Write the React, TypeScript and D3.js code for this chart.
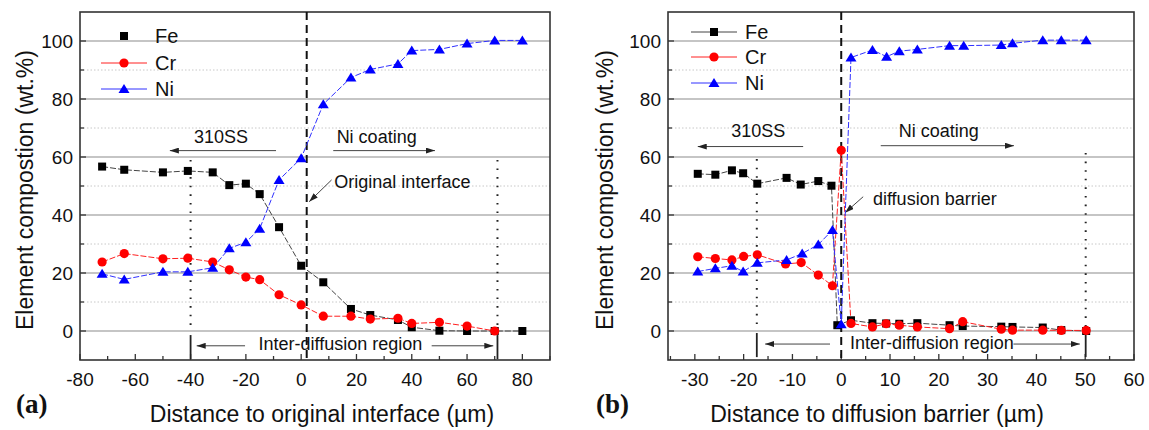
import React from 'react';
import * as d3 from 'd3';

// ---------- Data: panel (a) ----------
const distA = [-72, -64, -50, -41, -32, -26, -20, -15, -8, 0, 8, 18, 25, 35, 40, 50, 60, 70, 80];
const feA = [56.7, 55.6, 54.7, 55.2, 54.7, 50.3, 50.8, 47.2, 35.8, 22.5, 16.8, 7.6, 5.5, 3.8, 1.3, 0.1, 0, 0, 0];
const distCrA = [-72, -64, -50, -41, -32, -26, -20, -15, -8, 0, 8, 18, 25, 35, 40, 50, 60, 70];
const crA = [23.8, 26.7, 24.9, 25.1, 23.8, 21.1, 18.6, 17.7, 12.5, 9.0, 5.1, 5.1, 4.1, 4.4, 2.6, 3.0, 1.7, 0];
const niA = [19.7, 17.8, 20.4, 20.4, 21.8, 28.5, 30.6, 35.3, 52.1, 59.6, 78.2, 87.4, 90.2, 92.1, 96.7, 97.1, 99.1, 100.2, 100.2];

// ---------- Data: panel (b) ----------
const distFeB = [-29.4, -25.8, -22.4, -20.1, -17.2, -11.2, -8.3, -4.7, -2.0, -0.8, 2.0, 6.4, 9.2, 11.9, 15.6, 22.2, 24.9, 32.8, 35.1, 41.3, 45.1, 50.2];
const feB = [54.2, 53.9, 55.4, 54.4, 50.8, 52.8, 50.5, 51.7, 50.1, 2.0, 3.7, 2.7, 2.6, 2.5, 2.7, 2.0, 1.7, 1.5, 1.4, 1.2, 0.3, 0];
const distCrB = [-29.4, -25.8, -22.4, -20.0, -17.2, -11.4, -8.2, -4.7, -1.8, 0, 2.0, 6.4, 9.2, 11.9, 15.6, 22.2, 24.9, 32.8, 35.1, 41.3, 45.1, 50.2];
const crB = [25.6, 25.0, 24.5, 25.7, 26.3, 23.1, 23.6, 19.3, 15.6, 62.3, 2.6, 1.4, 2.5, 2.0, 1.4, 0.8, 3.2, 0.6, 0.3, 0.3, 0.2, 0.2];
const distNiB = [-29.4, -25.8, -22.4, -20.1, -17.2, -11.2, -8.0, -4.7, -1.8, 0, 2.0, 6.4, 9.3, 11.9, 15.6, 22.2, 25.1, 32.8, 35.1, 41.3, 45.1, 50.2];
const niB = [20.5, 21.6, 22.5, 20.5, 23.5, 24.5, 26.7, 29.8, 34.8, 2.3, 94.3, 96.9, 94.6, 96.5, 97.1, 98.4, 98.4, 98.6, 99.2, 100.3, 100.3, 100.3];

// ---------- Axis ticks ----------
const xTicksA = [-80, -60, -40, -20, 0, 20, 40, 60, 80];
const xTicksB = [-30, -20, -10, 0, 10, 20, 30, 40, 50, 60];
const yTicks = [0, 20, 40, 60, 80, 100];
const yMinor = [10, 30, 50, 70, 90];

const FONT = 'Liberation Sans, Arial, Helvetica, sans-serif';

type Shape = 'square' | 'circle' | 'triangle';
interface Series { name: string; xs: number[]; ys: number[]; color: string; line: string; shape: Shape; }

function Mark({ shape, x, y, color }: { shape: Shape; x: number; y: number; color: string }) {
  if (shape === 'square') return <rect x={x - 4} y={y - 4} width={8} height={8} fill={color} />;
  if (shape === 'circle') return <circle cx={x} cy={y} r={4.6} fill={color} />;
  return <path d={`M${x},${y - 5} L${x + 5.5},${y + 4} L${x - 5.5},${y + 4} Z`} fill={color} />;
}

interface Anno {
  dashedX: number;
  dotted: { x: number; y0: number; y1: number }[];
  bars: { x: number; y0: number; y1: number }[];
  texts: { x: number; y: number; t: string; anchor: string }[];
  arrows: { x0: number; y0: number; x1: number; y1: number }[];
}

interface PanelProps {
  left: number; top: number; right: number; bottom: number;
  xDomain: [number, number]; xTicks: number[]; xMinorStep: number;
  series: Series[]; anno: Anno;
  legend: { x: number; ys: number[]; showFeLine: boolean };
  xTitle: string; xTitleX: number; yTitleX: number; label: string; labelX: number;
}

function Panel(p: PanelProps) {
  const x = d3.scaleLinear().domain(p.xDomain).range([p.left, p.right]);
  const y = d3.scaleLinear().domain([-10, 110]).range([p.bottom, p.top]);
  const minorX = d3.range(Math.ceil(p.xDomain[0] / p.xMinorStep) * p.xMinorStep, p.xDomain[1] + 0.001, p.xMinorStep);
  const line = d3.line<[number, number]>().x(d => x(d[0])).y(d => y(d[1]));
  return (
    <g>
      {/* grid */}
      {yMinor.map(v => (
        <line key={'gm' + v} x1={p.left} x2={p.right} y1={y(v)} y2={y(v)} stroke="#c8c8c8" strokeWidth={1} strokeDasharray="1.5,2" />
      ))}
      {yTicks.map(v => (
        <line key={'g' + v} x1={p.left} x2={p.right} y1={y(v)} y2={y(v)} stroke="#8c8c8c" strokeWidth={1.2} />
      ))}
      {/* frame */}
      <rect x={p.left} y={p.top} width={p.right - p.left} height={p.bottom - p.top} fill="none" stroke="#333" strokeWidth={1.6} />
      {/* x ticks */}
      {minorX.map(v => {
        const major = p.xTicks.includes(Math.round(v * 100) / 100);
        return <line key={'xt' + v} x1={x(v)} x2={x(v)} y1={p.bottom} y2={p.bottom - (major ? 6 : 4)} stroke="#333" strokeWidth={1.3} />;
      })}
      {p.xTicks.map(v => (
        <text key={'xl' + v} x={x(v)} y={p.bottom + 26} fontSize={19} fontFamily={FONT} textAnchor="middle" fill="#111">{v}</text>
      ))}
      {/* y ticks */}
      {[...yTicks, ...yMinor].map(v => (
        <line key={'yt' + v} x1={p.left} x2={p.left + (yTicks.includes(v) ? 6 : 4)} y1={y(v)} y2={y(v)} stroke="#333" strokeWidth={1.3} />
      ))}
      {yTicks.map(v => (
        <text key={'yl' + v} x={p.left - 7} y={y(v)} dy="0.36em" fontSize={19} fontFamily={FONT} textAnchor="end" fill="#111">{v}</text>
      ))}
      {/* annotations */}
      <line x1={x(p.anno.dashedX)} x2={x(p.anno.dashedX)} y1={p.top} y2={p.bottom} stroke="#111" strokeWidth={2} strokeDasharray="8,5" />
      {p.anno.dotted.map((d, i) => (
        <line key={'dt' + i} x1={x(d.x)} x2={x(d.x)} y1={y(d.y0)} y2={y(d.y1)} stroke="#222" strokeWidth={2} strokeDasharray="1.6,7" />
      ))}
      {p.anno.bars.map((d, i) => (
        <line key={'br' + i} x1={x(d.x)} x2={x(d.x)} y1={y(d.y0)} y2={y(d.y1)} stroke="#222" strokeWidth={1.8} />
      ))}
      {p.anno.arrows.map((a, i) => (
        <line key={'ar' + i} x1={x(a.x0)} y1={y(a.y0)} x2={x(a.x1)} y2={y(a.y1)} stroke="#444" strokeWidth={1} markerEnd="url(#ah)" />
      ))}
      {p.anno.texts.map((t, i) => (
        <text key={'tx' + i} x={x(t.x)} y={y(t.y)} fontSize={18} fontFamily={FONT} textAnchor={t.anchor} fill="#111">{t.t}</text>
      ))}
      {/* series lines */}
      {p.series.map(s => (
        <path key={'l' + s.name} d={line(s.xs.map((v, i) => [v, s.ys[i]] as [number, number])) || ''} fill="none" stroke={s.line} strokeWidth={1} strokeDasharray="6,2" />
      ))}
      {p.series.map(s => (
        <g key={'m' + s.name}>
          {s.xs.map((v, i) => <Mark key={i} shape={s.shape} x={x(v)} y={y(s.ys[i])} color={s.color} />)}
        </g>
      ))}
      {/* legend */}
      {p.series.map((s, i) => (
        <g key={'lg' + s.name}>
          {(i > 0 || p.legend.showFeLine) && (
            <line x1={p.legend.x} x2={p.legend.x + 46} y1={p.legend.ys[i]} y2={p.legend.ys[i]} stroke={s.line} strokeWidth={1} />
          )}
          <Mark shape={s.shape} x={p.legend.x + 23} y={p.legend.ys[i]} color={s.color} />
          <text x={p.legend.x + 54} y={p.legend.ys[i]} dy="0.36em" fontSize={20} fontFamily={FONT} fill="#111">{s.name}</text>
        </g>
      ))}
      {/* titles */}
      <text x={p.xTitleX} y={422} fontSize={23} fontFamily={FONT} textAnchor="middle" fill="#111">{p.xTitle}</text>
      <text transform={`translate(${p.yTitleX},${(p.top + p.bottom) / 2 + 4}) rotate(-90)`} fontSize={23} fontFamily={FONT} textAnchor="middle" fill="#111">Element compostion (wt.%)</text>
      <text x={p.labelX} y={413} fontSize={27} fontWeight="bold" fontFamily="Liberation Serif, Times New Roman, serif" fill="#111">{p.label}</text>
    </g>
  );
}

export default function App() {
  const seriesA: Series[] = [
    { name: 'Fe', xs: distA, ys: feA, color: '#000', line: '#444', shape: 'square' },
    { name: 'Cr', xs: distCrA, ys: crA, color: '#ff0000', line: '#ff2020', shape: 'circle' },
    { name: 'Ni', xs: distA, ys: niA, color: '#0000ff', line: '#3030ff', shape: 'triangle' },
  ];
  const seriesB: Series[] = [
    { name: 'Fe', xs: distFeB, ys: feB, color: '#000', line: '#444', shape: 'square' },
    { name: 'Cr', xs: distCrB, ys: crB, color: '#ff0000', line: '#ff2020', shape: 'circle' },
    { name: 'Ni', xs: distNiB, ys: niB, color: '#0000ff', line: '#3030ff', shape: 'triangle' },
  ];
  const annoA: Anno = {
    dashedX: 2,
    dotted: [{ x: -40, y0: 59, y1: 0 }, { x: 71, y0: 59, y1: 0 }],
    bars: [{ x: -40, y0: -1.4, y1: -9.7 }, { x: 71, y0: -1.4, y1: -9.7 }],
    texts: [
      { x: -29, y: 64.9, t: '310SS', anchor: 'middle' },
      { x: 27.3, y: 64.9, t: 'Ni coating', anchor: 'middle' },
      { x: 12, y: 49.2, t: 'Original interface', anchor: 'start' },
      { x: 14.2, y: -6.6, t: 'Inter-diffusion region', anchor: 'middle' },
    ],
    arrows: [
      { x0: -9.1, y0: 62.2, x1: -47.5, y1: 62.2 },
      { x0: 11.6, y0: 62.2, x1: 48.4, y1: 62.2 },
      { x0: 11, y0: 52.1, x1: 2.9, y1: 44.6 },
      { x0: -20.3, y0: -5.1, x1: -37.8, y1: -5.1 },
      { x0: 47.2, y0: -5.1, x1: 69.5, y1: -5.1 },
    ],
  };
  const annoB: Anno = {
    dashedX: 0,
    dotted: [{ x: -17.3, y0: 59.3, y1: 0 }, { x: 50.1, y0: 61.4, y1: 0 }],
    bars: [{ x: -17.3, y0: -0.7, y1: -9 }, { x: 50.1, y0: -0.7, y1: -9 }],
    texts: [
      { x: -17, y: 67, t: '310SS', anchor: 'middle' },
      { x: 20, y: 67, t: 'Ni coating', anchor: 'middle' },
      { x: 6.5, y: 43.4, t: 'diffusion barrier', anchor: 'start' },
      { x: 1.8, y: -6.2, t: 'Inter-diffusion region', anchor: 'start' },
    ],
    arrows: [
      { x0: -7.8, y0: 63.6, x1: -29.4, y1: 63.6 },
      { x0: 8.1, y0: 63.9, x1: 35.4, y1: 63.9 },
      { x0: 4.5, y0: 46.3, x1: 0.8, y1: 40.8 },
      { x0: -2.3, y0: -4.5, x1: -15.6, y1: -4.5 },
      { x0: 35.3, y0: -4.5, x1: 48.9, y1: -4.5 },
    ],
  };
  return (
    <svg width={1149} height={430} style={{ position: 'absolute', left: 0, top: 0, background: '#fff' }}>
      <defs>
        <marker id="ah" markerWidth={9} markerHeight={6} refX={9} refY={3} orient="auto" markerUnits="userSpaceOnUse">
          <path d="M0,0 L9,3 L0,6 Z" fill="#222" />
        </marker>
      </defs>
      <rect width={1149} height={430} fill="#fff" />
      <Panel left={80} top={12} right={550} bottom={360} xDomain={[-80, 90]} xTicks={xTicksA} xMinorStep={10}
        series={seriesA} anno={annoA} legend={{ x: 101, ys: [36, 63, 89], showFeLine: false }}
        xTitle="Distance to original interface (µm)" xTitleX={322} yTitleX={33} label="(a)" labelX={16} />
      <Panel left={668} top={12} right={1134} bottom={360} xDomain={[-35.5, 60]} xTicks={xTicksB} xMinorStep={5}
        series={seriesB} anno={annoB} legend={{ x: 691, ys: [32, 57, 83], showFeLine: true }}
        xTitle="Distance to diffusion barrier (µm)" xTitleX={877} yTitleX={613} label="(b)" labelX={596} />
    </svg>
  );
}
